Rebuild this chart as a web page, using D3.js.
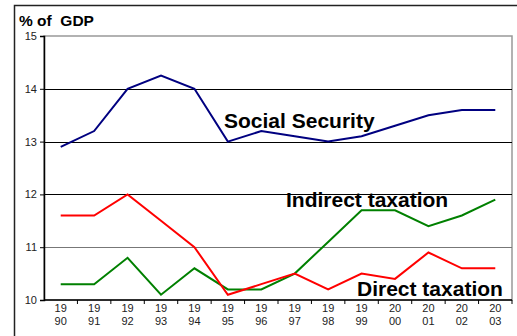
<!DOCTYPE html>
<html>
<head>
<meta charset="utf-8">
<script src="https://cdn.jsdelivr.net/npm/d3@7"></script>
<style>
  body { margin: 0; background: #fff; }
  svg { display: block; font-family: "Liberation Sans", Arial, sans-serif; }
</style>
</head>
<body>
<svg id="chart"></svg>
<script>
// data
const years = ['1990', '1991', '1992', '1993', '1994', '1995', '1996',
    '1997', '1998', '1999', '2000', '2001', '2002', '2003'];
const socialSecurity = [12.9, 13.2, 14.0, 14.25, 14.0, 13.0, 13.2, 13.1, 13.0, 13.1, 13.3, 13.5, 13.6, 13.6];
const directTax = [11.6, 11.6, 12.0, 11.5, 11.0, 10.1, 10.3, 10.5, 10.2, 10.5, 10.4, 10.9, 10.6, 10.6];
const indirectTax = [10.3, 10.3, 10.8, 10.1, 10.6, 10.2, 10.2, 10.5, 11.1, 11.7, 11.7, 11.4, 11.6, 11.9];
const yTicks = [10, 11, 12, 13, 14, 15];

const series = [
    { name: 'Social Security', values: socialSecurity, color: '#000080', label: [224, 128] },
    { name: 'Indirect taxation', values: indirectTax, color: '#008000', label: [286, 207] },
    { name: 'Direct taxation', values: directTax, color: '#ff0000', label: [357, 296] }
];

const width = 517, height = 336;
const margin = { top: 36, right: 5, bottom: 36, left: 44 };

const svg = d3.select('#chart')
    .attr('width', width)
    .attr('height', height);

// outer frame
svg.append('rect')
    .attr('x', 14.5).attr('y', 5.5)
    .attr('width', 520).attr('height', 340)
    .attr('fill', 'none')
    .attr('stroke', '#222')
    .attr('stroke-width', 1.5);

svg.append('text')
    .attr('x', 19).attr('y', 26)
    .attr('font-size', 15.5).attr('font-weight', 'bold')
    .attr('xml:space', 'preserve')
    .text('% of  GDP');

const x = d3.scaleBand()
    .domain(years)
    .range([margin.left, width - margin.right]);

const y = d3.scaleLinear()
    .domain([10, 15])
    .range([height - margin.bottom, margin.top]);

// plot area border
svg.append('rect')
    .attr('x', margin.left).attr('y', y(15))
    .attr('width', x.range()[1] - margin.left)
    .attr('height', y(10) - y(15))
    .attr('fill', 'none')
    .attr('stroke', '#999')
    .attr('stroke-width', 1.5);

// gridlines
svg.append('g')
    .selectAll('line')
    .data(yTicks.filter(d => d > 10 && d < 15))
    .join('line')
    .attr('x1', margin.left).attr('x2', x.range()[1])
    .attr('y1', d => Math.round(y(d)) + 0.5).attr('y2', d => Math.round(y(d)) + 0.5)
    .attr('stroke', d => d === 11 ? '#777' : '#000')
    .attr('stroke-width', 1.2);

// y axis
const yAxis = svg.append('g')
    .attr('transform', `translate(${margin.left},0)`)
    .call(d3.axisLeft(y).tickValues(yTicks).tickSize(4).tickPadding(3).tickFormat(d3.format('d')));
yAxis.select('.domain').attr('stroke', '#000').attr('stroke-width', 1.5);
yAxis.selectAll('.tick line').attr('stroke', '#000');
yAxis.selectAll('.tick text').attr('font-size', 11).attr('fill', '#222')
    .attr('font-family', '"Liberation Sans", Arial, sans-serif');

// x axis: ticks between categories, two-line labels
const xAxisG = svg.append('g')
    .attr('transform', `translate(0,${y(10)})`);
xAxisG.append('line')
    .attr('x1', margin.left).attr('x2', x.range()[1])
    .attr('stroke', '#000').attr('stroke-width', 1.5);
xAxisG.selectAll('.tk')
    .data(years.slice(1).concat(['end']))
    .join('line')
    .attr('class', 'tk')
    .attr('x1', (d, i) => margin.left + x.step() * (i + 1))
    .attr('x2', (d, i) => margin.left + x.step() * (i + 1))
    .attr('y1', 0).attr('y2', 4)
    .attr('stroke', '#000');
const xl = xAxisG.selectAll('.lbl')
    .data(years)
    .join('text')
    .attr('class', 'lbl')
    .attr('text-anchor', 'middle')
    .attr('font-size', 11)
    .attr('fill', '#222');
xl.append('tspan')
    .attr('x', d => x(d) + x.bandwidth() / 2).attr('y', 12)
    .text(d => d.slice(0, 2));
xl.append('tspan')
    .attr('x', d => x(d) + x.bandwidth() / 2).attr('y', 25)
    .text(d => d.slice(2));

// lines
const line = d3.line()
    .x((d, i) => x(years[i]) + x.bandwidth() / 2)
    .y(d => y(d));

svg.append('g')
    .selectAll('path')
    .data(series)
    .join('path')
    .attr('d', d => line(d.values))
    .attr('fill', 'none')
    .attr('stroke', d => d.color)
    .attr('stroke-width', 2);

// series labels
svg.append('g')
    .selectAll('text')
    .data(series)
    .join('text')
    .attr('x', d => d.label[0])
    .attr('y', d => d.label[1])
    .attr('font-size', 21)
    .attr('font-weight', 'bold')
    .text(d => d.name);
</script>
</body>
</html>
